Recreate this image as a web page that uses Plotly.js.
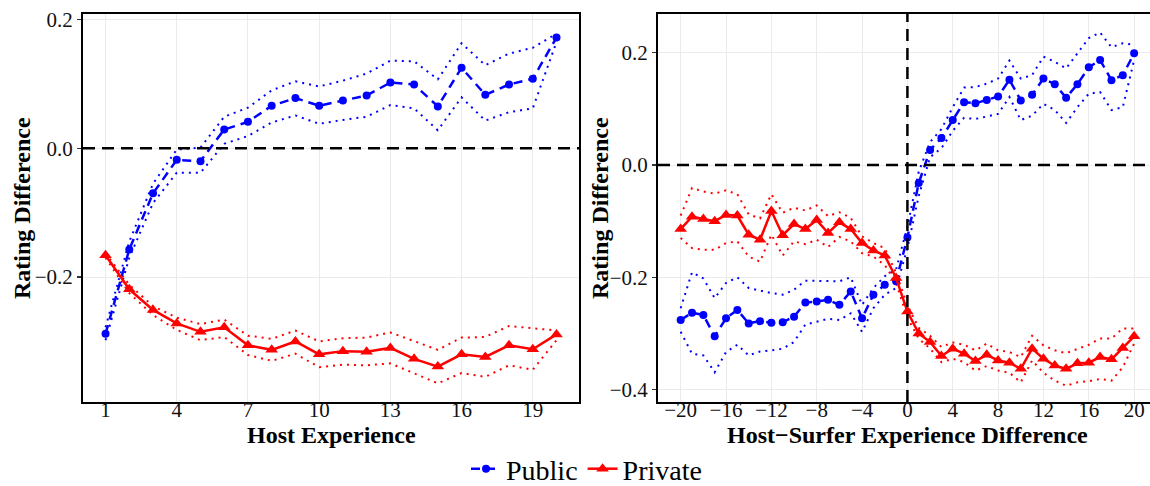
<!DOCTYPE html>
<html>
<head>
<meta charset="utf-8">
<script src="https://cdn.plot.ly/plotly-3.0.1.min.js"></script>
<style>html,body{margin:0;padding:0;background:#fff;}#chart{width:1150px;height:486px;}</style>
</head>
<body>
<div id="chart"></div>
<script>
// ---- Left panel: Host Experience ----
const hostExp = [1,2,3,4,5,6,7,8,9,10,11,12,13,14,15,16,17,18,19,20];
const pubHost      = [-0.288,-0.157,-0.070,-0.018,-0.020,0.029,0.041,0.066,0.078,0.066,0.074,0.082,0.102,0.099,0.065,0.125,0.083,0.099,0.108,0.172];
const pubHostUpper = [-0.278,-0.145,-0.055,-0.002,0.001,0.049,0.063,0.090,0.104,0.096,0.105,0.116,0.136,0.135,0.107,0.163,0.129,0.147,0.156,0.178];
const pubHostLower = [-0.298,-0.170,-0.085,-0.038,-0.038,0.007,0.019,0.040,0.051,0.038,0.044,0.049,0.067,0.062,0.028,0.079,0.043,0.056,0.062,0.165];
const privHost      = [-0.166,-0.219,-0.251,-0.272,-0.285,-0.278,-0.306,-0.313,-0.300,-0.320,-0.315,-0.316,-0.310,-0.327,-0.339,-0.320,-0.324,-0.306,-0.312,-0.289];
const privHostUpper = [-0.163,-0.212,-0.245,-0.263,-0.273,-0.266,-0.291,-0.296,-0.283,-0.300,-0.295,-0.294,-0.286,-0.300,-0.313,-0.294,-0.293,-0.276,-0.280,-0.283];
const privHostLower = [-0.170,-0.225,-0.259,-0.282,-0.298,-0.293,-0.321,-0.330,-0.319,-0.340,-0.336,-0.337,-0.334,-0.349,-0.365,-0.349,-0.355,-0.337,-0.344,-0.298];

// ---- Right panel: Host-Surfer Experience Difference ----
const expDiff = [-20,-19,-18,-17,-16,-15,-14,-13,-12,-11,-10,-9,-8,-7,-6,-5,-4,-3,-2,-1,0,1,2,3,4,5,6,7,8,9,10,11,12,13,14,15,16,17,18,19,20];
const pubDiff = [-0.276,-0.263,-0.267,-0.305,-0.273,-0.258,-0.282,-0.278,-0.281,-0.280,-0.270,-0.245,-0.243,-0.240,-0.249,-0.225,-0.273,-0.231,-0.213,-0.207,-0.129,
  -0.032,0.027,0.048,0.080,0.112,0.110,0.116,0.122,0.152,0.115,0.125,0.154,0.144,0.120,0.144,0.174,0.187,0.151,0.160,0.199];
const pubDiffUpper = [-0.255,-0.191,-0.202,-0.237,-0.210,-0.200,-0.219,-0.224,-0.228,-0.231,-0.222,-0.206,-0.206,-0.206,-0.207,-0.200,-0.249,-0.219,-0.198,-0.186,-0.110,
  -0.012,0.041,0.064,0.103,0.138,0.139,0.145,0.154,0.186,0.154,0.160,0.193,0.184,0.172,0.199,0.226,0.236,0.210,0.217,0.214];
const pubDiffLower = [-0.297,-0.336,-0.339,-0.369,-0.333,-0.320,-0.339,-0.332,-0.330,-0.327,-0.315,-0.284,-0.279,-0.274,-0.276,-0.264,-0.297,-0.255,-0.231,-0.219,-0.148,
  -0.055,0.014,0.030,0.061,0.084,0.082,0.087,0.091,0.121,0.080,0.088,0.109,0.098,0.075,0.103,0.127,0.130,0.098,0.103,0.187];
const privDiff = [-0.114,-0.092,-0.096,-0.100,-0.089,-0.090,-0.124,-0.133,-0.082,-0.125,-0.105,-0.114,-0.098,-0.121,-0.102,-0.114,-0.139,-0.152,-0.161,-0.201,-0.261,
  -0.300,-0.315,-0.340,-0.327,-0.336,-0.349,-0.338,-0.348,-0.352,-0.363,-0.327,-0.345,-0.357,-0.363,-0.353,-0.352,-0.342,-0.346,-0.326,-0.305];
const privDiffUpper = [-0.090,-0.041,-0.047,-0.051,-0.045,-0.052,-0.088,-0.095,-0.052,-0.085,-0.076,-0.081,-0.072,-0.091,-0.084,-0.094,-0.127,-0.139,-0.148,-0.192,-0.250,
  -0.290,-0.304,-0.324,-0.316,-0.320,-0.330,-0.318,-0.330,-0.333,-0.342,-0.304,-0.321,-0.330,-0.335,-0.327,-0.320,-0.309,-0.309,-0.291,-0.291];
const privDiffLower = [-0.130,-0.148,-0.151,-0.151,-0.139,-0.136,-0.163,-0.172,-0.124,-0.161,-0.136,-0.141,-0.133,-0.146,-0.128,-0.136,-0.157,-0.163,-0.178,-0.210,-0.272,
  -0.309,-0.327,-0.351,-0.345,-0.351,-0.366,-0.358,-0.366,-0.370,-0.387,-0.348,-0.370,-0.384,-0.393,-0.387,-0.385,-0.381,-0.384,-0.360,-0.318];

const leftTicks = [1,4,7,10,13,16,19];
const rightTicks = [-20,-16,-12,-8,-4,0,4,8,12,16,20];
const seriesNames = ['Public','Private'];
const titles = {left: 'Host Experience', right: 'Host−Surfer Experience Difference', y: 'Rating Difference'};

const BLUE = '#0000ff', RED = '#ff0000';
const FONT = 'Liberation Serif, Times New Roman, serif';

function ci(x, y, color, xa, ya) {
  return {x: x, y: y, xaxis: xa, yaxis: ya, type: 'scatter', mode: 'lines',
    line: {color: color, width: 2, dash: '2px,5px'}, showlegend: false, hoverinfo: 'skip'};
}
function pub(x, y, xa, ya, show) {
  return {x: x, y: y, xaxis: xa, yaxis: ya, type: 'scatter', mode: 'lines+markers', name: seriesNames[0],
    line: {color: BLUE, width: 2.5, dash: '9px,6px'}, marker: {color: BLUE, size: 8, symbol: 'circle'},
    showlegend: show, legendgroup: 'pub'};
}
function priv(x, y, xa, ya, show) {
  return {x: x, y: y, xaxis: xa, yaxis: ya, type: 'scatter', mode: 'lines+markers', name: seriesNames[1],
    line: {color: RED, width: 2.5}, marker: {color: RED, size: 11, symbol: 'triangle-up'},
    showlegend: show, legendgroup: 'priv'};
}

const data = [
  ci(hostExp, pubHostUpper, BLUE, 'x', 'y'), ci(hostExp, pubHostLower, BLUE, 'x', 'y'),
  ci(hostExp, privHostUpper, RED, 'x', 'y'), ci(hostExp, privHostLower, RED, 'x', 'y'),
  pub(hostExp, pubHost, 'x', 'y', true), priv(hostExp, privHost, 'x', 'y', true),
  ci(expDiff, pubDiffUpper, BLUE, 'x2', 'y2'), ci(expDiff, pubDiffLower, BLUE, 'x2', 'y2'),
  ci(expDiff, privDiffUpper, RED, 'x2', 'y2'), ci(expDiff, privDiffLower, RED, 'x2', 'y2'),
  pub(expDiff, pubDiff, 'x2', 'y2', false), priv(expDiff, privDiff, 'x2', 'y2', false)
];

const axisCommon = {
  showline: true, linecolor: '#000', linewidth: 2,
  showgrid: true, gridcolor: '#ebebeb', gridwidth: 1, zeroline: false, automargin: false,
  tickfont: {family: FONT, size: 21, color: '#111'}
};
const xCommon = Object.assign({}, axisCommon, {ticks: '', ticklabelstandoff: -12});
const yCommon = Object.assign({}, axisCommon, {ticks: 'outside', ticklen: 4, tickcolor: '#333', tickwidth: 1.5, tickformat: '.1f'});
const titleFont = {family: FONT, size: 24, color: '#000'};
const T_Y = -0.085;   // paper y of the x-axis titles

const layout = {
  width: 1150, height: 486,
  margin: {l: 83, r: 0, t: 14, b: 84},
  paper_bgcolor: '#fff', plot_bgcolor: '#fff',
  font: {family: FONT},
  showlegend: true,
  legend: {orientation: 'h', xref: 'container', yref: 'container', x: 0.51, y: 0.035, xanchor: 'center', yanchor: 'middle',
    font: {family: FONT, size: 28, color: '#000'}, itemwidth: 30, bgcolor: 'rgba(0,0,0,0)'},
  xaxis: Object.assign({}, xCommon, {domain: [0, 0.4649], range: [0.05, 20.95], tickvals: leftTicks, mirror: true, anchor: 'y'}),
  yaxis: Object.assign({}, yCommon, {domain: [0, 1], range: [-0.394, 0.2085], tickvals: [-0.2, 0, 0.2], mirror: true, anchor: 'x'}),
  xaxis2: Object.assign({}, xCommon, {domain: [0.5389, 1], range: [-22, 21.4], tickvals: rightTicks, mirror: true, anchor: 'y2'}),
  yaxis2: Object.assign({}, yCommon, {domain: [0, 1], range: [-0.422, 0.269], tickvals: [-0.4, -0.2, 0, 0.2], mirror: false, anchor: 'x2'}),
  annotations: [
    {text: '<b>' + titles.left + '</b>', xref: 'x domain', yref: 'paper', x: 0.5, y: T_Y, xanchor: 'center', yanchor: 'middle', showarrow: false, font: titleFont},
    {text: '<b>' + titles.right + '</b>', xref: 'x2', yref: 'paper', x: 0, y: T_Y, xanchor: 'center', yanchor: 'middle', showarrow: false, font: titleFont},
    {text: '<b>' + titles.y + '</b>', xref: 'paper', yref: 'paper', x: -0.0572, y: 0.5, xanchor: 'center', yanchor: 'middle', textangle: -90, showarrow: false, font: titleFont},
    {text: '<b>' + titles.y + '</b>', xref: 'paper', yref: 'paper', x: 0.4845, y: 0.5, xanchor: 'center', yanchor: 'middle', textangle: -90, showarrow: false, font: titleFont}
  ],
  shapes: [
    {type: 'line', xref: 'x domain', yref: 'y', x0: 0, x1: 1, y0: 0, y1: 0, line: {color: '#000', width: 2.5, dash: '12px,7px'}},
    {type: 'line', xref: 'x2 domain', yref: 'y2', x0: 0, x1: 1, y0: 0, y1: 0, line: {color: '#000', width: 2.5, dash: '12px,7px'}},
    {type: 'line', xref: 'x2', yref: 'y2 domain', x0: 0, x1: 0, y0: 0, y1: 1, line: {color: '#000', width: 2.5, dash: '12px,7px'}}
  ]
};

Plotly.newPlot('chart', data, layout, {displayModeBar: false, staticPlot: true});
</script>
</body>
</html>
